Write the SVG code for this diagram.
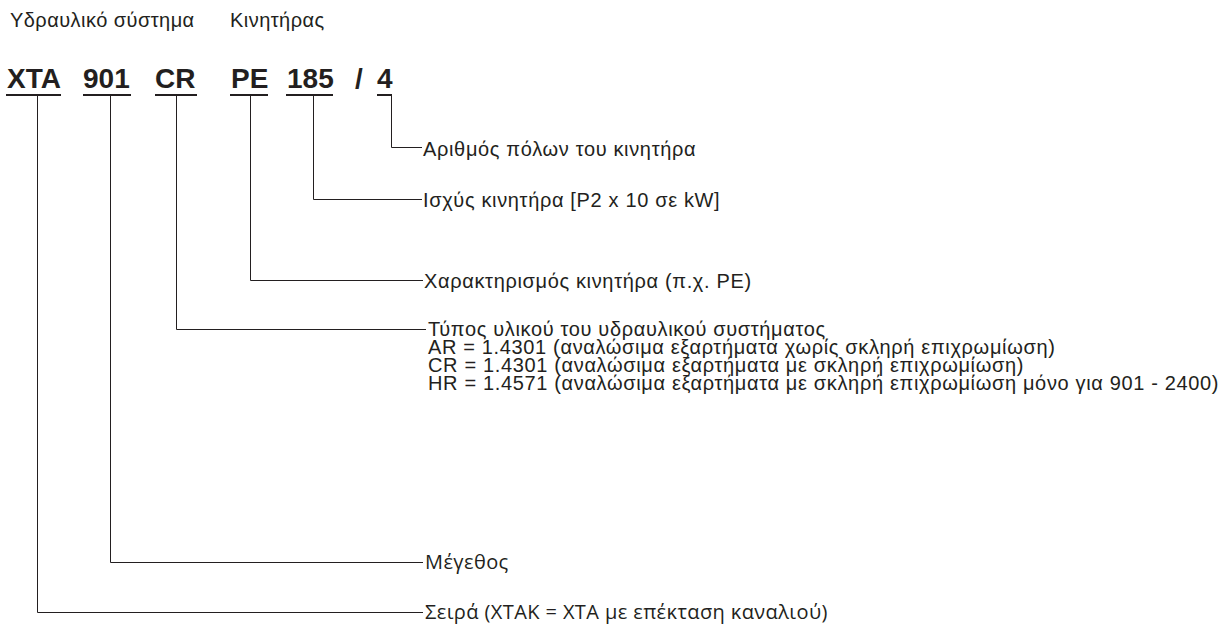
<svg xmlns="http://www.w3.org/2000/svg" width="1229" height="626" viewBox="0 0 1229 626">
<style>
.t{font-family:"Liberation Sans",Arial,sans-serif;font-size:20px;letter-spacing:0.65px;fill:#231f20}
.c{font-family:"Open Sans","Liberation Sans",sans-serif;font-size:20px;letter-spacing:0.4px;fill:#231f20}
.code{font-family:"Liberation Sans",Arial,sans-serif;font-size:28px;font-weight:bold;fill:#231f20}
.ul{stroke:#231f20;stroke-width:2;fill:none}
.ln{stroke:#231f20;stroke-width:1;fill:none}
</style>
<rect width="1229" height="626" fill="#fff"/>
<g id="headers">
<text class="t" x="10" y="27" style="letter-spacing:0.45px">Υδραυλικό σύστημα</text>
<text class="t" x="230" y="27" style="letter-spacing:0.45px">Κινητήρας</text>
</g>
<g id="code">
<text class="code" x="7" y="88">XTA</text>
<text class="code" x="83" y="88">901</text>
<text class="code" x="155" y="88">CR</text>
<text class="code" x="231" y="88">PE</text>
<text class="code" x="287" y="88">185</text>
<text class="code" x="355" y="88">/</text>
<text class="code" x="377" y="88">4</text>
<path class="ul" d="M6 95H61M83 95H131M155 95H197M230 95H268M286 95H333M377 95H392"/>
</g>
<g id="connectors">
<path class="ln" d="M391.5 96V147.5H422"/>
<path class="ln" d="M313.5 96V199.5H422"/>
<path class="ln" d="M250.5 96V280.5H423"/>
<path class="ln" d="M176.5 96V329.5H426"/>
<path class="ln" d="M110.5 96V562.5H423"/>
<path class="ln" d="M37.5 96V612.5H423"/>
</g>
<g id="poles"><text class="t" x="423" y="156">Αριθμός πόλων του κινητήρα</text></g>
<g id="power"><text class="t" x="423" y="207">Ισχύς κινητήρα [P2 x 10 σε kW]</text></g>
<g id="motor"><text class="t" x="424" y="288">Χαρακτηρισμός κινητήρα (π.χ. PE)</text></g>
<g id="material">
<text class="t" x="428" y="336">Τύπος υλικού του υδραυλικού συστήματος</text>
<text class="t" x="428" y="354">AR = 1.4301 (αναλώσιμα εξαρτήματα χωρίς σκληρή επιχρωμίωση)</text>
<text class="t" x="428" y="372">CR = 1.4301 (αναλώσιμα εξαρτήματα με σκληρή επιχρωμίωση)</text>
<text class="t" x="428" y="390">HR = 1.4571 (αναλώσιμα εξαρτήματα με σκληρή επιχρωμίωση μόνο για 901 - 2400)</text>
</g>
<g id="size"><text class="c" x="425" y="569">Μέγεθος</text></g>
<g id="series"><text class="c" x="425" y="619">Σειρά (XTAK = XTA με επέκταση καναλιού)</text></g>
</svg>
